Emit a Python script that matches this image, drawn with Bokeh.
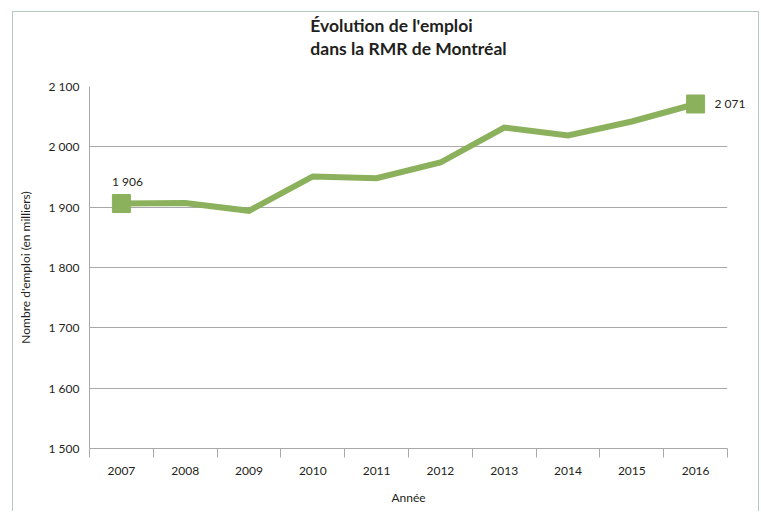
from bokeh.plotting import figure
from bokeh.layouts import column
from bokeh.models import Range1d, FixedTicker, Label, Title, LinearAxis
from bokeh.embed import file_html
from bokeh.resources import INLINE

# ---- data ----
years = [2007, 2008, 2009, 2010, 2011, 2012, 2013, 2014, 2015, 2016]
emploi = [1906, 1907, 1894, 1951, 1948, 1974, 2032, 2019, 2042, 2071]
y_ticks = [1500, 1600, 1700, 1800, 1900, 2000, 2100]
title_lines = ["Évolution de l'emploi", "dans la RMR de Montréal"]
x_label = "Année"
y_label = "Nombre d'emploi (en milliers)"


def fmt(v):
    return f"{v:,}".replace(",", " ")


GREEN = "#8cb15c"
GRID = "#a8a8a8"
TEXT = "#231f20"
FONT = "Lato"

p = figure(width=745, height=499, output_backend="svg", toolbar_location=None,
           title=None,
           x_range=Range1d(years[0] - 0.5, years[-1] + 0.5),
           y_range=Range1d(y_ticks[0], y_ticks[-1]),
           min_border_left=76, min_border_right=31,
           min_border_top=74, min_border_bottom=63)
p.outline_line_color = None
p.background_fill_color = "white"
p.border_fill_color = None

# title (two lines)
title = Title(text="\n".join(title_lines), align="center", text_font=FONT,
              text_font_size="17.5px", text_font_style="bold",
              text_color=TEXT, text_line_height=1.1)
try:
    title.padding = {"left": 0, "right": 0, "top": 0, "bottom": 27}
    title.standoff = 0
except Exception:
    title.standoff = 29
p.add_layout(title, "above")

# x axis
p.xaxis.ticker = FixedTicker(ticks=years,
                             minor_ticks=[y - 0.5 for y in years] + [years[-1] + 0.5])
p.xaxis.major_label_overrides = {y: str(y) for y in years}
p.xaxis.major_tick_line_color = None
p.xaxis.major_tick_out = 0
p.xaxis.major_tick_in = 0
p.xaxis.minor_tick_line_color = GRID
p.xaxis.minor_tick_in = 0
p.xaxis.minor_tick_out = 9
p.xaxis.axis_line_color = GRID
p.xaxis.major_label_standoff = 9
p.xaxis.axis_label = x_label
p.xaxis.axis_label_standoff = 12
p.xgrid.grid_line_color = None

# y axis
p.yaxis.ticker = FixedTicker(ticks=y_ticks)
p.yaxis.major_label_overrides = {t: fmt(t) for t in y_ticks}
p.yaxis.major_tick_line_color = None
p.yaxis.major_tick_out = 0
p.yaxis.major_tick_in = 0
p.yaxis.minor_tick_line_color = None
p.yaxis.axis_line_color = GRID
p.yaxis.major_label_standoff = 10
p.yaxis.axis_label = y_label
p.yaxis.axis_label_standoff = 13
p.ygrid.grid_line_color = GRID
p.ygrid.grid_line_width = 1

for ax in (p.xaxis, p.yaxis):
    ax.major_label_text_font = FONT
    ax.major_label_text_font_size = "12px"
    ax.major_label_text_color = TEXT
    ax.axis_label_text_font = FONT
    ax.axis_label_text_font_size = "12px"
    ax.axis_label_text_font_style = "normal"
    ax.axis_label_text_color = TEXT

# series
p.line(years, emploi, line_color=GREEN, line_width=6, line_join="miter")
p.scatter([years[0], years[-1]], [emploi[0], emploi[-1]], marker="square",
          size=18, fill_color=GREEN, line_color=GREEN)
p.add_layout(Label(x=years[0], y=emploi[0], text=fmt(emploi[0]), x_offset=6, y_offset=22,
                   text_align="center", text_baseline="middle", text_font_size="12px",
                   text_color=TEXT, text_font=FONT))

# value label of the last point, drawn beside the plot area (not clipped)
end_axis = LinearAxis(ticker=FixedTicker(ticks=[emploi[-1]]),
                      major_label_overrides={emploi[-1]: fmt(emploi[-1])},
                      axis_line_color=None, major_tick_line_color=None,
                      minor_tick_line_color=None, major_tick_in=0, major_tick_out=0,
                      minor_tick_in=0, minor_tick_out=0,
                      major_label_standoff=-13,
                      major_label_text_font=FONT, major_label_text_font_size="12px",
                      major_label_text_color=TEXT)
p.add_layout(end_axis, "right")

# outer frame of the chart (top, left and right edges)
page = column(p, margin=(11, 0, 0, 12),
              styles={"border-top": "1px solid #b6c9bd",
                      "border-left": "1px solid #b6c9bd",
                      "border-right": "1px solid #b6c9bd"})

open("out.html", "w").write(file_html(page, INLINE))
